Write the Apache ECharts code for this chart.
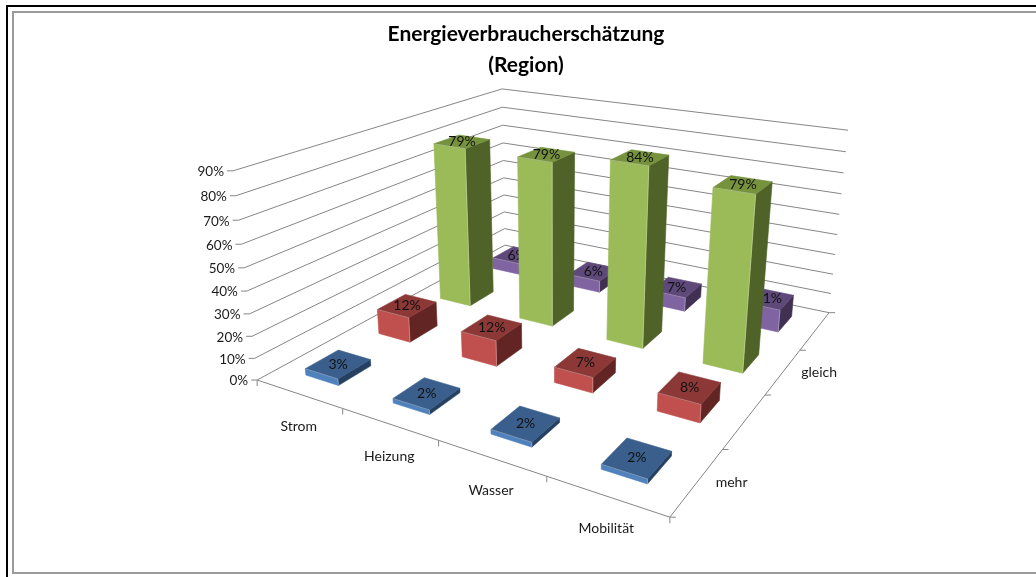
<!DOCTYPE html>
<html>
<head>
<meta charset="utf-8">
<style>
  html, body { margin: 0; padding: 0; background: #fff; }
  #chart { width: 1036px; height: 577px; }
</style>
<script src="https://cdn.jsdelivr.net/npm/echarts@6/dist/echarts.min.js"></script>
</head>
<body>
<div id="chart"></div>
<script>
// Daten
const titleLines = ['Energieverbraucherschätzung', '(Region)'];
const categories = ['Strom', 'Heizung', 'Wasser', 'Mobilität'];
const depthLabels = ['mehr', '', 'gleich', ''];
const mehr = [3, 2, 2, 2];
const weniger = [12, 12, 7, 8];
const gleich = [79, 79, 84, 79];
const keineAngabe = [6, 6, 7, 11];
const valueTicks = [0, 10, 20, 30, 40, 50, 60, 70, 80, 90];

const FONT = 'Lato, "Open Sans", sans-serif';
const BAR_W = 0.385;   // Anteil der Kategorie-Breite
const BAR_D = 0.43;    // Anteil der Tiefen-Zelle

// Kamera: Ecken des Diagramm-Raums -> Bildschirm, daraus die Projektionsmatrix
const calib = [
    [0, 0, 0, 257, 380],
    [4, 0, 0, 670, 517],
    [4, 4, 0, 829, 313],
    [0, 4, 0, 505, 245],
    [0, 0, 90, 233, 171],
    [0, 4, 90, 502, 89],
    [4, 4, 90, 848, 130]
];

function solveCamera(pts) {
    let rows = [], rhs = [];
    pts.forEach(p => {
        let [x, y, z, u, v] = p;
        rows.push([x, y, z, 1, 0, 0, 0, 0, -u * x, -u * y, -u * z]); rhs.push(u);
        rows.push([0, 0, 0, 0, x, y, z, 1, -v * x, -v * y, -v * z]); rhs.push(v);
    });
    // Normalgleichungen
    let n = 11, A = [];
    for (let i = 0; i < n; i++) {
        A[i] = [];
        for (let j = 0; j <= n; j++) {
            let s = 0;
            rows.forEach((r, k) => { s += r[i] * (j < n ? r[j] : rhs[k]); });
            A[i][j] = s;
        }
    }
    for (let i = 0; i < n; i++) {
        let best = i;
        for (let k = i + 1; k < n; k++) if (Math.abs(A[k][i]) > Math.abs(A[best][i])) best = k;
        [A[i], A[best]] = [A[best], A[i]];
        for (let k = 0; k < n; k++) {
            if (k === i) continue;
            let f = A[k][i] / A[i][i];
            for (let j = i; j <= n; j++) A[k][j] -= f * A[i][j];
        }
    }
    return A.map((r, i) => r[n] / r[i]);
}
const cam = solveCamera(calib);

function project(x, y, z) {
    let w = cam[8] * x + cam[9] * y + cam[10] * z + 1;
    return [
        (cam[0] * x + cam[1] * y + cam[2] * z + cam[3]) / w,
        (cam[4] * x + cam[5] * y + cam[6] * z + cam[7]) / w
    ];
}

// Kategorie/Wert über die (versteckten) Achsen von ECharts in Raum-Koordinaten umrechnen
function toWorld(params, api, cat, val) {
    let c = api.coord([cat, val]);
    let bandW = api.size([1, 0])[0];
    let pxPerVal = api.size([0, 1])[1];
    let sys = params.coordSys;
    return [(c[0] - sys.x) / bandW, (sys.y + sys.height - c[1]) / pxPerVal];
}

function poly(points, fill, stroke) {
    return {
        type: 'polygon',
        shape: { points: points },
        style: { fill: fill, stroke: stroke || fill, lineWidth: 0.6 }
    };
}

function line(a, b, stroke, width) {
    return {
        type: 'line',
        shape: { x1: a[0], y1: a[1], x2: b[0], y2: b[1] },
        style: { stroke: stroke || '#868686', lineWidth: width || 1 }
    };
}

function label(text, x, y, size, align, fill) {
    return {
        type: 'text',
        style: {
            text: text, x: x, y: y, fill: fill || '#1a1a1a',
            font: size + 'px ' + FONT, align: align || 'center', verticalAlign: 'middle'
        }
    };
}

// eine Reihe Säulen in einer Tiefen-Zelle
function barSeries(values, depthIndex, colors) {
    return {
        type: 'custom',
        coordinateSystem: 'cartesian2d',
        silent: true,
        clip: false,
        data: values.map((v, i) => [i, v]),
        encode: { x: 0, y: 1 },
        renderItem: function (params, api) {
            let w = toWorld(params, api, api.value(0), api.value(1));
            let x0 = w[0] - BAR_W / 2, x1 = w[0] + BAR_W / 2;
            let y0 = depthIndex + 0.5 - BAR_D / 2, y1 = depthIndex + 0.5 + BAR_D / 2;
            let z = w[1];
            let top = [project(x0, y0, z), project(x1, y0, z), project(x1, y1, z), project(x0, y1, z)];
            let front = [project(x0, y0, 0), project(x1, y0, 0), top[1], top[0]];
            let side = [project(x1, y0, 0), project(x1, y1, 0), top[2], top[1]];
            let mid = project(w[0], depthIndex + 0.5, z);
            let edge = 'rgba(255,255,255,0.35)';
            return {
                type: 'group',
                children: [
                    poly(side, colors.side),
                    poly(front, colors.front),
                    poly(top, colors.top),
                    line(top[0], top[1], edge, 0.8),
                    line(top[1], front[1], edge, 0.8),
                    label(api.value(1) + '%', mid[0], mid[1], 14, 'center', '#111')
                ]
            };
        }
    };
}

// Wände, Boden, Striche, Beschriftung
const wallSeries = {
    type: 'custom',
    coordinateSystem: 'cartesian2d',
    silent: true,
    clip: false,
    data: valueTicks.map(v => [0, v]),
    encode: { x: 0, y: 1 },
    renderItem: function (params, api) {
        let z = toWorld(params, api, 0, api.value(1))[1];
        let a = project(0, 0, z), b = project(0, 4, z), c = project(4, 4, z);
        return {
            type: 'group',
            children: [
                line(a, b),
                line(b, c),
                line([a[0] - 6, a[1]], a),
                label(api.value(1) + '%', a[0] - 9, a[1] + 1, 13.5, 'right')
            ]
        };
    }
};

const floorSeries = {
    type: 'custom',
    coordinateSystem: 'cartesian2d',
    silent: true,
    clip: false,
    data: categories.map((c, i) => [i, 0]),
    encode: { x: 0, y: 1 },
    renderItem: function (params, api) {
        let i = api.value(0);
        let p0 = project(i, 0, 0), p1 = project(i + 1, 0, 0);
        let d0 = project(4, i, 0), d1 = project(4, i + 1, 0);
        let mid = project(i + 0.5, 0, 0), dmid = project(4, i + 0.5, 0);
        let kids = [
            line(p0, p1),
            line(d0, d1),
            line(p1, [p1[0], p1[1] + 6]),
            line(d0, [d0[0] + 6, d0[1]]),
            label(categories[i], mid[0], mid[1] + 32.5, 14, 'center')
        ];
        if (i === 0) kids.push(line(p0, [p0[0], p0[1] + 6]));
        if (i === 3) kids.push(line(d1, [d1[0] + 6, d1[1]]));
        if (depthLabels[i]) kids.push(label(depthLabels[i], dmid[0] + 18, dmid[1] + 1, 14, 'left'));
        return { type: 'group', children: kids };
    }
};

const chart = echarts.init(document.getElementById('chart'), null, { renderer: 'canvas' });
chart.setOption({
    animation: false,
    backgroundColor: '#fff',
    title: {
        text: titleLines.join('\n'),
        left: 521,
        top: 14,
        textAlign: 'center',
        textStyle: { fontFamily: FONT, fontSize: 21, fontWeight: 'bold', color: '#000', lineHeight: 31 }
    },
    grid: { left: 0, right: 0, top: 0, bottom: 0 },
    xAxis: { type: 'category', data: categories, show: false },
    yAxis: { type: 'value', min: 0, max: 90, interval: 10, show: false },
    graphic: [
        { type: 'polyline', shape: { points: [[1036, 6], [7, 6], [7, 577]] }, style: { fill: 'none', stroke: '#000', lineWidth: 2 } },
        { type: 'polyline', shape: { points: [[1036, 12], [13, 12], [13, 573], [1036, 573]] }, style: { fill: 'none', stroke: '#9a9a9a', lineWidth: 2 } }
    ],
    series: [
        wallSeries,
        floorSeries,
        barSeries(keineAngabe, 3, { front: '#8064A2', side: '#403152', top: '#5F497A' }),
        barSeries(gleich, 2, { front: '#9BBB59', side: '#4F6228', top: '#76923C' }),
        barSeries(weniger, 1, { front: '#C0504D', side: '#632523', top: '#8C3836' }),
        barSeries(mehr, 0, { front: '#4F81BD', side: '#254061', top: '#3A5F8C' })
    ]
});
</script>
</body>
</html>
